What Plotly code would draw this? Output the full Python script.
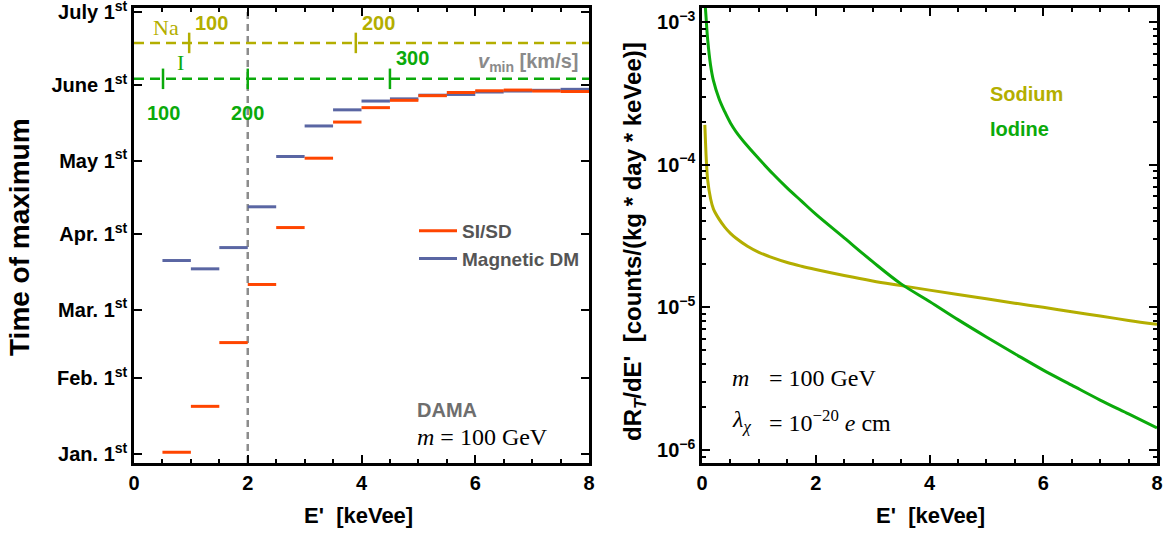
import plotly.graph_objects as go

# ---------------- data: left panel (time of maximum, day of year, Jan 1 = 0)
bin_lo = [0.5, 1.0, 1.5, 2.0, 2.5, 3.0, 3.5, 4.0, 4.5, 5.0, 5.5, 6.0, 6.5, 7.0, 7.5]
bin_hi = [1.0, 1.5, 2.0, 2.5, 3.0, 3.5, 4.0, 4.5, 5.0, 5.5, 6.0, 6.5, 7.0, 7.5, 8.0]
si_sd_day = [0.7, 19.5, 45.6, 69.4, 92.7, 121.1, 135.9, 141.8, 144.8, 146.7,
             148.0, 148.7, 149.0, 148.6, 148.4]
magnetic_day = [79.2, 75.8, 84.5, 101.2, 121.8, 134.3, 140.9, 144.5, 145.4, 146.9,
                147.2, 148.2, 148.6, 148.9, 149.3]

month_days = [0, 31, 59, 90, 120, 151, 181]
month_labels = ["Jan. 1", "Feb. 1", "Mar. 1", "Apr. 1", "May 1", "June 1", "July 1"]

na_line_day = 168.3
i_line_day = 153.6
na_vmin_E = [0.97, 3.9]
na_vmin_lbl = ["100", "200"]
i_vmin_E = [0.51, 2.0, 4.5]
i_vmin_lbl = ["100", "200", "300"]
threshold_E = 2.0

# ---------------- data: right panel (differential rate)
energy = [0.05, 0.06, 0.07, 0.08, 0.1, 0.15, 0.2, 0.3, 0.4, 0.5, 0.6, 0.8, 1.0, 1.25,
          1.5, 1.75, 2.0, 2.5, 3.0, 3.5, 4.0, 4.5, 5.0, 5.5, 6.0, 6.5, 7.0, 7.5, 8.0]
sodium_rate = [1.9e-4, 1.5e-4, 1.2e-4, 1.0e-4, 7.8e-5, 5.8e-5, 4.9e-5, 4.15e-5, 3.65e-5,
               3.3e-5, 3.05e-5, 2.68e-5, 2.43e-5, 2.22e-5, 2.06e-5, 1.94e-5, 1.84e-5,
               1.67e-5, 1.53e-5, 1.42e-5, 1.32e-5, 1.23e-5, 1.15e-5, 1.07e-5, 1.0e-5,
               9.3e-6, 8.7e-6, 8.1e-6, 7.6e-6]
iodine_rate = [1.4e-3, 1.25e-3, 1.1e-3, 9.5e-4, 7.5e-4, 5.0e-4, 3.9e-4, 2.9e-4, 2.35e-4,
               1.96e-4, 1.7e-4, 1.35e-4, 1.1e-4, 8.6e-5, 6.85e-5, 5.55e-5, 4.5e-5,
               3.07e-5, 2.09e-5, 1.46e-5, 1.10e-5, 8.2e-6, 6.2e-6, 4.73e-6, 3.63e-6,
               2.85e-6, 2.24e-6, 1.79e-6, 1.43e-6]

# ---------------- styles
FONT = "Liberation Sans"
SERIF = "Liberation Serif"
RED = "#FF4500"
BLUE = "#5A66A3"
OLIVE = "#B3AE00"
GREEN = "#0BAA0B"
OX, OY = 0, 0
W, H = 1172, 537


def px_x(px):
    return (px - OX) / W


def px_y(py):
    return 1 - (py - OY) / H


L_DOM = [px_x(134), px_x(589)]
R_DOM = [px_x(702), px_x(1157)]
Y_DOM = [px_y(463), px_y(8)]
DAY_RANGE = [-3.7, 182.6]


def seg(lo, hi, vals):
    xs, ys = [], []
    for a, b, v in zip(lo, hi, vals):
        xs += [a, b, None]
        ys += [v, v, None]
    return xs, ys


fig = go.Figure()

# threshold line
fig.add_trace(go.Scatter(x=[threshold_E, threshold_E], y=DAY_RANGE, mode="lines",
                         line=dict(color="#8C8C8C", width=2.5, dash="7px,5px"),
                         showlegend=False, hoverinfo="skip", xaxis="x", yaxis="y"))

# Na / I vmin reference lines
for day, evals, col in [(na_line_day, na_vmin_E, OLIVE), (i_line_day, i_vmin_E, GREEN)]:
    fig.add_trace(go.Scatter(x=[0, 8], y=[day, day], mode="lines",
                             line=dict(color=col, width=2.5, dash="10px,6px"),
                             showlegend=False, hoverinfo="skip", xaxis="x", yaxis="y"))
    tx, ty = [], []
    for e in evals:
        tx += [e, e, None]
        ty += [day - 4.2, day + 4.2, None]
    fig.add_trace(go.Scatter(x=tx, y=ty, mode="lines", line=dict(color=col, width=2.5),
                             showlegend=False, hoverinfo="skip", xaxis="x", yaxis="y"))

sx, sy = seg(bin_lo, bin_hi, si_sd_day)
mx, my = seg(bin_lo, bin_hi, magnetic_day)
fig.add_trace(go.Scatter(x=mx, y=my, mode="lines", line=dict(color=BLUE, width=3),
                         name="Magnetic DM", xaxis="x", yaxis="y", legendrank=2))
fig.add_trace(go.Scatter(x=sx, y=sy, mode="lines", line=dict(color=RED, width=3),
                         name="SI/SD", xaxis="x", yaxis="y", legendrank=1))

# right panel curves
fig.add_trace(go.Scatter(x=energy, y=sodium_rate, mode="lines", line=dict(color=OLIVE, width=3),
                         line_shape="spline", showlegend=False, xaxis="x2", yaxis="y2"))
fig.add_trace(go.Scatter(x=energy, y=iodine_rate, mode="lines", line=dict(color=GREEN, width=3),
                         line_shape="spline", showlegend=False, xaxis="x2", yaxis="y2"))

tickfont = dict(family=FONT, size=20, color="black", weight="bold")
axis_common = dict(showgrid=False, zeroline=False, showline=True, linecolor="black",
                   linewidth=2.5, mirror="ticks", ticks="inside", ticklen=8, tickwidth=2,
                   tickcolor="black", tickfont=tickfont, automargin=False,
                   ticklabeloverflow="allow")

xticks = dict(tickmode="array", tickvals=[0, 2, 4, 6, 8], ticktext=["0", "2", "4", "6", "8"],
              range=[0, 8], minor=dict(dtick=0.5, tick0=0, ticks="inside", ticklen=4,
                                       tickwidth=2, tickcolor="black", showgrid=False))

fig.update_layout(
    width=W, height=H, margin=dict(l=0, r=0, t=0, b=0, autoexpand=False),
    paper_bgcolor="white", plot_bgcolor="white",
    xaxis=dict(domain=L_DOM, anchor="y", **xticks, **axis_common),
    yaxis=dict(domain=Y_DOM, anchor="x", range=DAY_RANGE, tickmode="array",
               tickvals=month_days,
               ticktext=[m + "<sup>st</sup>" for m in month_labels], **axis_common),
    xaxis2=dict(domain=R_DOM, anchor="y2", **xticks, **axis_common),
    yaxis2=dict(domain=Y_DOM, anchor="x2", type="log", range=[-6.091, -2.902],
                tickmode="array", tickvals=[1e-6, 1e-5, 1e-4, 1e-3],
                ticktext=["10<sup>\u22126</sup>", "10<sup>\u22125</sup>",
                          "10<sup>\u22124</sup>", "10<sup>\u22123</sup>"],
                minor=dict(dtick="D1", ticks="inside", ticklen=4, tickwidth=2,
                           tickcolor="black", showgrid=False),
                **axis_common),
    legend=dict(x=px_x(414), y=px_y(212), xanchor="left", yanchor="top",
                bgcolor="rgba(0,0,0,0)", tracegroupgap=0, itemwidth=38,
                font=dict(family=FONT, size=19, color="#555555", weight="bold")),
    showlegend=True,
)

ann = []


def A(text, x, y, xref, yref, size, color, family=FONT, bold=True, xanchor="center",
      yanchor="middle", angle=0):
    ann.append(dict(text=text, x=x, y=y, xref=xref, yref=yref, showarrow=False,
                    xanchor=xanchor, yanchor=yanchor, textangle=angle,
                    font=dict(family=family, size=size, color=color,
                              weight="bold" if bold else "normal")))


# axis titles
A("Time of maximum", px_x(20), px_y(237), "paper", "paper", 28, "black", angle=-90)
A("E'\u00a0\u00a0[keVee]", px_x(358), px_y(515), "paper", "paper", 22, "black")
A("E'\u00a0\u00a0[keVee]", px_x(930), px_y(515), "paper", "paper", 22, "black")
A("dR<sub><i>T</i></sub>/dE'\u00a0\u00a0[counts/(kg * day * keVee)]", px_x(634), px_y(242),
  "paper", "paper", 24, "black", angle=-90)

# left panel labels
A("Na", (166 - 134) / 56.875, na_line_day + 6.5, "x", "y", 22, OLIVE, SERIF, False)
A("I", (180 - 134) / 56.875, i_line_day + 6.5, "x", "y", 22, GREEN, SERIF, False)
for e, lbl in zip(na_vmin_E, na_vmin_lbl):
    A(lbl, e + 0.07, na_line_day + 3.0, "x", "y", 20, OLIVE, xanchor="left", yanchor="bottom")
A(i_vmin_lbl[0], i_vmin_E[0], i_line_day - 8.5, "x", "y", 20, GREEN, yanchor="top")
A(i_vmin_lbl[1], i_vmin_E[1], i_line_day - 8.5, "x", "y", 20, GREEN, yanchor="top")
A(i_vmin_lbl[2], i_vmin_E[2] + 0.07, i_line_day + 3.0, "x", "y", 20, GREEN,
  xanchor="left", yanchor="bottom")
A("<i>v</i><sub>min</sub> [km/s]", 7.85, i_line_day + 6.5, "x", "y", 20, "#8A8A8A",
  xanchor="right")
A("DAMA", (415 - 134) / 56.875, (454 - 410) / 2.442, "x", "y", 20, "#6E6E6E",
  xanchor="left")
A("<i>m</i> = 100 GeV", (415 - 134) / 56.875, (454 - 437) / 2.442, "x", "y", 24, "black",
  SERIF, False, xanchor="left")

# right panel labels
A("Sodium", (988 - 702) / 56.9, -3.503, "x2", "y2", 20, OLIVE, xanchor="left")
A("Iodine", (988 - 702) / 56.9, -3.748, "x2", "y2", 20, GREEN, xanchor="left")
A("<i>m</i>", (730 - 702) / 56.9, -5.497, "x2", "y2", 24, "black", SERIF, False, xanchor="left")
A("= 100 GeV", (767 - 702) / 56.9, -5.497, "x2", "y2", 24, "black", SERIF, False,
  xanchor="left")
A("<i>\u03bb</i><sub><i>\u03c7</i></sub>", (730 - 702) / 56.9, -5.80, "x2", "y2", 24, "black",
  SERIF, False, xanchor="left")
A("= 10<sup>\u221220</sup> <i>e</i> cm", (767 - 702) / 56.9, -5.80, "x2", "y2", 24, "black",
  SERIF, False, xanchor="left")

fig.update_layout(annotations=ann)
fig.write_html("out.html", config={"displayModeBar": False},
               post_script="document.body.style.margin='0';")
